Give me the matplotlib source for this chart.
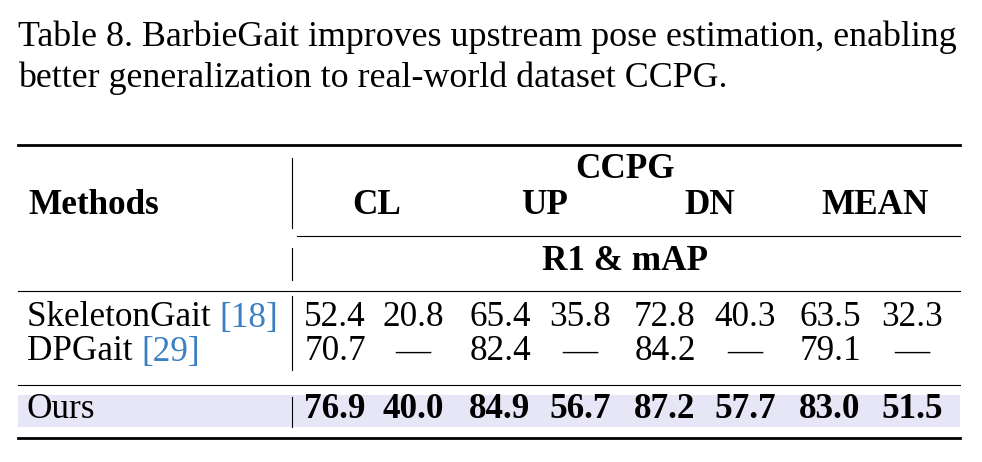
import matplotlib
matplotlib.use("Agg")
import matplotlib.pyplot as plt
from matplotlib.patches import Rectangle

caption = ["Table 8. BarbieGait improves upstream pose estimation, enabling",
           "better generalization to real-world dataset CCPG."]
groups = ["CL", "UP", "DN", "MEAN"]
methods = ["SkeletonGait", "DPGait", "Ours"]
refs = ["[18]", "[29]", ""]
values = [["52.4", "20.8", "65.4", "35.8", "72.8", "40.3", "63.5", "32.3"],
          ["70.7", "—", "82.4", "—", "84.2", "—", "79.1", "—"],
          ["76.9", "40.0", "84.9", "56.7", "87.2", "57.7", "83.0", "51.5"]]

W, H = 982, 462
fig = plt.figure(figsize=(W/100, H/100), dpi=100)
ax = fig.add_axes([0, 0, 1, 1])
ax.set_xlim(0, W); ax.set_ylim(H, 0); ax.axis("off")
plt.rcParams['font.family'] = ['Liberation Serif', 'DejaVu Serif']
fs = 25.8
ft = 25.3

for i, line in enumerate(caption):
    ax.text(18, 37 + 41*i, line, fontsize=fs, va="center", ha="left")

ax.add_patch(Rectangle((18, 395), 942, 32, color="#e6e6f7", lw=0, zorder=0))
ax.plot([18, 960], [145, 145], color="k", lw=2)
ax.plot([297, 960], [236, 236], color="k", lw=0.8)
ax.plot([18, 960], [291, 291], color="k", lw=0.8)
ax.plot([18, 960], [385, 385], color="k", lw=0.8)
ax.plot([18, 960], [438, 438], color="k", lw=2)
for y0, y1 in [(158, 228), (248, 280), (296, 370), (397, 427)]:
    ax.plot([292, 292], [y0, y1], color="k", lw=0.8)

ax.text(625, 170, "CCPG", fontsize=ft, weight="bold", ha="center", va="center")
ax.text(28, 205, "Methods", fontsize=ft, weight="bold", ha="left", va="center")
for g, x in zip(groups, [377, 545, 710, 875]):
    ax.text(x, 205, g, fontsize=ft, weight="bold", ha="center", va="center")
ax.text(625, 262, "R1 & mAP", fontsize=ft, weight="bold", ha="center", va="center")

colx = [335, 413, 500, 580, 665, 745, 830, 912]
rowy = [318, 352, 410]
for r, (m, rf, vals) in enumerate(zip(methods, refs, values)):
    y = rowy[r]
    t = ax.text(27, y, m + (" " if rf else ""), fontsize=ft, ha="left", va="center")
    if rf:
        fig.canvas.draw()
        bb = t.get_window_extent().transformed(ax.transData.inverted())
        ax.text(bb.x1, y, rf, fontsize=ft, ha="left", va="center", color="#3b7fc4")
    for v, x in zip(vals, colx):
        ax.text(x, y, v, fontsize=ft, ha="center", va="center",
                weight="bold" if r == 2 else "normal")

fig.savefig("out.png", dpi=100)
